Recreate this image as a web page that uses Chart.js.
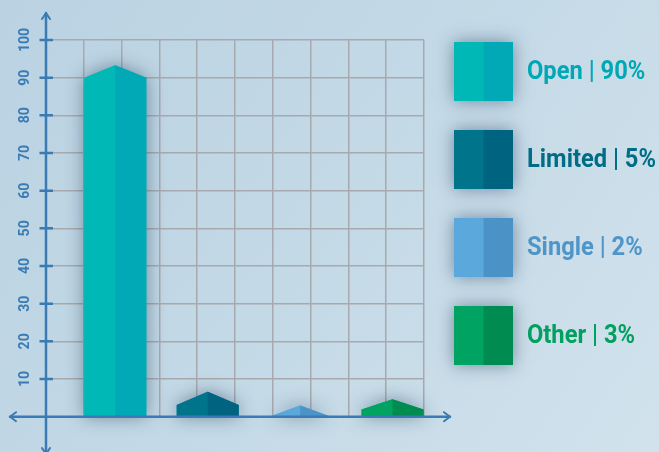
<!DOCTYPE html>
<html>
<head>
<meta charset="utf-8">
<script src="https://cdn.jsdelivr.net/npm/chart.js@4.4.0/dist/chart.umd.min.js"></script>
<style>
html, body { margin: 0; padding: 0; background: #c3d8e6; }
canvas { display: block; }
</style>
</head>
<body>
<canvas id="myChart" width="659" height="452"></canvas>
<script>
// data
var categories = ['Open', 'Limited', 'Single', 'Other'];
var shares = [90, 5, 2, 3];
var barTops = [90, 3.1, 0, 1.9];      // top of the straight part of each bar
var barPeaks = [93.3, 6.6, 3.0, 4.6];  // tip of the roof on each bar
var yTicks = [10, 20, 30, 40, 50, 60, 70, 80, 90, 100];

var lightColors = ['#00b8b6', '#00748a', '#5aa8dc', '#00a362'];
var darkColors = ['#00a9b5', '#006380', '#4b93c6', '#008c50'];
var textColors = ['#00a8b5', '#006d86', '#4f95c8', '#00a05f'];

var axisBlue = '#3a7bb4';

var backgroundPlugin = {
  id: 'background',
  beforeDraw: function (chart) {
    var ctx = chart.ctx;
    var g = ctx.createLinearGradient(0, 0, chart.width, chart.height);
    g.addColorStop(0, '#bad2e2');
    g.addColorStop(0.55, '#c5dae7');
    g.addColorStop(1, '#d1e2ec');
    ctx.save();
    ctx.fillStyle = g;
    ctx.fillRect(0, 0, chart.width, chart.height);
    ctx.restore();
  }
};

// bars with a pointed roof, two tone
var roofBarsPlugin = {
  id: 'roofBars',
  afterDatasetsDraw: function (chart) {
    var ctx = chart.ctx;
    var yScale = chart.scales.y;
    var meta = chart.getDatasetMeta(0);
    meta.data.forEach(function (bar, i) {
      var half = bar.width / 2;
      var l = bar.x - half, r = bar.x + half, m = bar.x;
      var top = bar.y, base = bar.base;
      var peak = yScale.getPixelForValue(barPeaks[i]);

      ctx.save();
      ctx.shadowColor = 'rgba(25, 55, 85, 0.5)';
      ctx.shadowBlur = 18;
      ctx.beginPath();
      ctx.moveTo(l, base);
      ctx.lineTo(l, top);
      ctx.lineTo(m, peak);
      ctx.lineTo(r, top);
      ctx.lineTo(r, base);
      ctx.closePath();
      ctx.fillStyle = lightColors[i];
      ctx.fill();
      ctx.restore();

      ctx.beginPath();
      ctx.moveTo(l, base);
      ctx.lineTo(l, top);
      ctx.lineTo(m, peak);
      ctx.lineTo(m, base);
      ctx.closePath();
      ctx.fillStyle = lightColors[i];
      ctx.fill();

      ctx.beginPath();
      ctx.moveTo(m, base);
      ctx.lineTo(m, peak);
      ctx.lineTo(r, top);
      ctx.lineTo(r, base);
      ctx.closePath();
      ctx.fillStyle = darkColors[i];
      ctx.fill();
    });
  }
};

// axis lines with arrows and the small cross ticks
var axesPlugin = {
  id: 'arrowAxes',
  afterDatasetsDraw: function (chart) {
    var ctx = chart.ctx;
    var area = chart.chartArea;
    var yScale = chart.scales.y;
    var ax = area.left;
    var ay = yScale.getPixelForValue(0);
    var xEnd = area.right + 26;

    ctx.save();
    ctx.strokeStyle = axisBlue;
    ctx.lineWidth = 2.5;
    ctx.lineCap = 'round';
    ctx.lineJoin = 'round';

    ctx.beginPath();
    ctx.moveTo(ax, area.top - 27);
    ctx.lineTo(ax, chart.height + 2);
    ctx.moveTo(10, ay);
    ctx.lineTo(xEnd, ay);
    ctx.stroke();

    ctx.lineWidth = 2;
    ctx.beginPath();
    // up
    ctx.moveTo(ax - 4, area.top - 21);
    ctx.lineTo(ax, area.top - 27);
    ctx.lineTo(ax + 4, area.top - 21);
    // down
    ctx.moveTo(ax - 4, chart.height - 4);
    ctx.lineTo(ax, chart.height + 2);
    ctx.lineTo(ax + 4, chart.height - 4);
    // left
    ctx.moveTo(16, ay - 4.5);
    ctx.lineTo(10, ay);
    ctx.lineTo(16, ay + 4.5);
    // right
    ctx.moveTo(xEnd - 6, ay - 4.5);
    ctx.lineTo(xEnd, ay);
    ctx.lineTo(xEnd - 6, ay + 4.5);
    ctx.stroke();

    ctx.lineWidth = 2.5;
    ctx.lineCap = 'butt';
    ctx.beginPath();
    yScale.ticks.forEach(function (t) {
      var py = yScale.getPixelForValue(t.value);
      ctx.moveTo(ax - 6.5, py);
      ctx.lineTo(ax + 7, py);
    });
    ctx.stroke();
    ctx.restore();
  }
};

// legend with big two tone squares
var legendPlugin = {
  id: 'squareLegend',
  afterDraw: function (chart) {
    var ctx = chart.ctx;
    var boxX = 454, boxY = 42, box = 59, step = 88;
    ctx.save();
    ctx.font = 'bold 25px Roboto';
    var squeeze = 129 / ctx.measureText('Limited | 5%').width;
    categories.forEach(function (name, i) {
      var y = boxY + i * step;
      ctx.save();
      ctx.shadowColor = 'rgba(25, 55, 85, 0.5)';
      ctx.shadowBlur = 16;
      ctx.fillStyle = lightColors[i];
      ctx.fillRect(boxX, y, box, box);
      ctx.restore();
      ctx.fillStyle = lightColors[i];
      ctx.fillRect(boxX, y, box / 2, box);
      ctx.fillStyle = darkColors[i];
      ctx.fillRect(boxX + box / 2, y, box / 2, box);

      ctx.save();
      ctx.translate(527, y + box / 2 + 1);
      ctx.scale(squeeze, 1);
      ctx.fillStyle = textColors[i];
      ctx.textBaseline = 'middle';
      ctx.textAlign = 'left';
      ctx.fillText(name + ' | ' + shares[i] + '%', 0, 0);
      ctx.restore();
    });
    ctx.restore();
  }
};

var barChart = new Chart('myChart', {
  type: 'bar',
  data: {
    datasets: [{
      label: 'Share',
      data: barTops.map(function (v, i) { return { x: i, y: v }; }),
      backgroundColor: 'rgba(0,0,0,0)',
      borderWidth: 0,
      barThickness: 62
    }]
  },
  options: {
    responsive: false,
    animation: false,
    devicePixelRatio: 1,
    layout: { padding: { top: 40, right: 235, left: 0, bottom: 0 } },
    plugins: {
      legend: { display: false },
      tooltip: { enabled: false }
    },
    scales: {
      x: {
        type: 'linear',
        display: false,
        offset: false,
        min: -0.75,
        max: 3.34,
        grid: { offset: false }
      },
      xg: {
        type: 'linear',
        position: 'bottom',
        offset: false,
        min: 0,
        max: 10,
        ticks: { display: false, stepSize: 1 },
        border: { display: false },
        grid: { color: '#a7a9ae', lineWidth: 1.5, drawTicks: false, offset: false },
        afterFit: function (scale) { scale.height = 35.3; }
      },
      y: {
        type: 'linear',
        min: 0,
        max: 100,
        afterBuildTicks: function (scale) {
          scale.ticks = yTicks.map(function (v) { return { value: v }; });
        },
        ticks: {
          minRotation: 90,
          maxRotation: 90,
          crossAlign: 'center',
          padding: 8,
          color: axisBlue,
          font: { family: 'Roboto', size: 14, weight: 'bold' }
        },
        border: { display: false },
        grid: { color: '#a7a9ae', lineWidth: 1.5, drawTicks: false },
        afterFit: function (scale) { scale.width = 46; }
      }
    }
  },
  plugins: [backgroundPlugin, roofBarsPlugin, axesPlugin, legendPlugin]
});
</script>
</body>
</html>
